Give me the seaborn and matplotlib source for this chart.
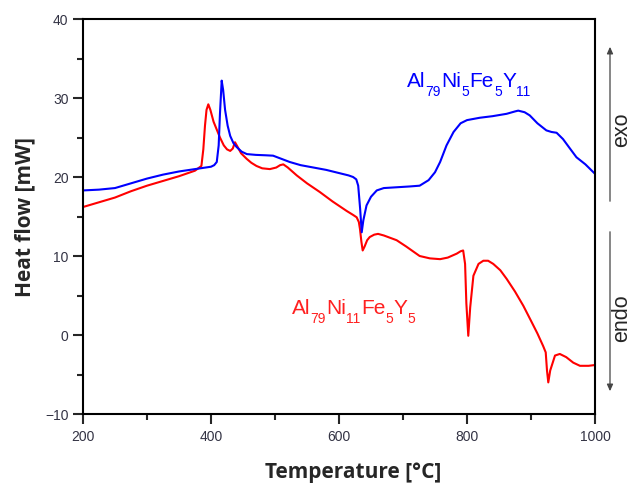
import numpy as np
import pandas as pd
import matplotlib
matplotlib.use("Agg")
import matplotlib.pyplot as plt
import matplotlib.patches as mpatches
import seaborn as sns

# ---- data ----
blue_T = [200, 225, 250, 275, 300, 325, 350, 375, 400, 405, 409, 412, 414, 416.7, 419, 422, 426, 430,
          435, 440, 448, 456, 470, 485, 497, 510, 523, 540, 560, 580, 600, 615, 622, 627, 630, 633,
          635.5, 638, 643, 650, 659, 670, 690, 710, 726, 740, 750, 758, 768, 779, 790, 800, 820, 840,
          862, 875, 880, 890, 898, 910, 924, 932, 940, 950, 960, 971, 985, 1000]
blue_H = [18.3, 18.4, 18.6, 19.2, 19.8, 20.3, 20.7, 21.0, 21.3, 21.5, 21.9, 24.0, 28.0, 32.2, 31.0,
          28.5, 26.5, 25.2, 24.3, 23.8, 23.2, 22.9, 22.8, 22.75, 22.7, 22.3, 21.9, 21.5, 21.2, 20.9,
          20.5, 20.2, 20.0, 19.7, 18.9, 16.0, 13.0, 14.5, 16.4, 17.5, 18.3, 18.6, 18.7, 18.8, 18.9,
          19.6, 20.6, 21.9, 24.0, 25.7, 26.8, 27.2, 27.5, 27.7, 28.0, 28.3, 28.4, 28.2, 27.8, 26.8,
          25.9, 25.7, 25.6, 24.8, 23.7, 22.5, 21.6, 20.4]

red_T = [200, 225, 250, 275, 300, 325, 350, 375, 385, 388, 390.6, 393, 395.8, 399, 404, 409, 414, 420,
         425, 430, 434, 437.5, 441, 447, 455.7, 463, 471, 480, 492, 502, 508, 513, 520, 534, 550, 570,
         590, 612, 622, 627.6, 631, 632.8, 635, 637, 640, 644, 648, 655, 661, 670, 680, 690, 705, 726,
         742, 758, 770, 784, 790, 794, 797, 799, 802, 805, 810, 818, 825.5, 833, 841, 852, 862, 875,
         888, 900, 910, 919, 923, 925, 927, 930, 937.5, 945, 955, 966, 976.5, 990, 1000]
red_H = [16.2, 16.8, 17.4, 18.2, 18.9, 19.5, 20.1, 20.8, 21.4, 23.5, 26.5, 28.5, 29.2, 28.5, 27.0,
         26.0, 25.0, 24.0, 23.5, 23.3, 23.6, 24.4, 23.9, 23.0, 22.3, 21.8, 21.4, 21.1, 21.0, 21.2,
         21.5, 21.6, 21.2, 20.2, 19.2, 18.1, 16.9, 15.7, 15.2, 14.9, 14.3, 13.4, 11.8, 10.7, 11.2,
         12.0, 12.4, 12.7, 12.8, 12.6, 12.3, 12.0, 11.2, 10.0, 9.7, 9.6, 9.8, 10.3, 10.6, 10.7, 9.0,
         4.0, -0.1, 3.5, 7.5, 9.0, 9.4, 9.4, 9.0, 8.2, 7.1, 5.5, 3.7, 1.8, 0.2, -1.4, -2.2, -4.5,
         -6.0, -4.5, -2.6, -2.4, -2.8, -3.5, -3.9, -3.9, -3.8]

# chemical formula labels: (text, is_subscript)
blue_label = [("Al", False), ("79", True), ("Ni", False), ("5", True),
              ("Fe", False), ("5", True), ("Y", False), ("11", True)]
red_label = [("Al", False), ("79", True), ("Ni", False), ("11", True),
             ("Fe", False), ("5", True), ("Y", False), ("5", True)]
x_ticks = [200, 400, 600, 800, 1000]
y_ticks = [-10, 0, 10, 20, 30, 40]

# ---- styling ----
sns.set_style("ticks")
plt.rcParams["font.family"] = ["Liberation Sans", "DejaVu Sans"]

fig = plt.figure(figsize=(6.34, 4.85), dpi=100)
ax = fig.add_axes([83 / 634, 1 - 415 / 485, (595 - 83) / 634, (415 - 20) / 485])

df_b = pd.DataFrame({"T": blue_T, "H": blue_H})
df_r = pd.DataFrame({"T": red_T, "H": red_H})
sns.lineplot(data=df_r, x="T", y="H", ax=ax, color="#ff0000", lw=1.5, sort=False, estimator=None)
sns.lineplot(data=df_b, x="T", y="H", ax=ax, color="#0000ff", lw=1.5, sort=False, estimator=None)

ax.set_xlim(200, 1000)
ax.set_ylim(-10, 40)
ax.set_xticks(x_ticks)
ax.set_yticks(y_ticks)
ax.set_xticks([300, 500, 700, 900], minor=True)
ax.set_yticks([-5, 5, 15, 25, 35], minor=True)
ax.tick_params(which="major", length=7, width=1.5, labelsize=10, labelcolor="#333344", direction="out")
ax.tick_params(which="minor", length=4, width=1.5, direction="out")
for s in ax.spines.values():
    s.set_linewidth(1.5)
    s.set_color("black")

ax.set_xlabel("Temperature [°C]", family="Open Sans", fontweight="bold", fontsize=15)
ax.xaxis.set_label_coords((353 - 83) / 512, -0.12)
ax.set_ylabel("Heat flow [mW]", family="Open Sans", fontweight="bold", fontsize=15, labelpad=7)


def formula(x, y, parts, color, size=15, subsize=10, drop=5.6):
    prev = ax.text(x, y, parts[0][0], color=color, fontsize=size, va="bottom", ha="left")
    prev_sub = parts[0][1]
    for txt, sub in parts[1:]:
        dy = 0.0
        if sub and not prev_sub:
            dy = -drop
        elif prev_sub and not sub:
            dy = drop
        prev = ax.annotate(txt, xy=(1, 0), xycoords=prev, xytext=(0.2, dy),
                           textcoords="offset points", color=color,
                           fontsize=subsize if sub else size, va="bottom", ha="left")
        prev_sub = sub


formula(706, 31.0, blue_label, "#0000ff")
formula(526, 2.3, red_label, "#ff2020")

# exo / endo arrows outside the axes
xa = 610 / 634
fig.add_artist(mpatches.FancyArrowPatch((xa, 1 - 205 / 485), (xa, 1 - 45 / 485),
               transform=fig.transFigure, arrowstyle="-|>,head_length=4,head_width=1.8",
               color="#444444", lw=0.9, mutation_scale=1))
fig.add_artist(mpatches.FancyArrowPatch((xa, 1 - 230 / 485), (xa, 1 - 395 / 485),
               transform=fig.transFigure, arrowstyle="-|>,head_length=4,head_width=1.8",
               color="#444444", lw=0.9, mutation_scale=1))
fig.text(622 / 634, 1 - 130 / 485, "exo", rotation=90, ha="center", va="center", fontsize=15.5)
fig.text(622 / 634, 1 - 318 / 485, "endo", rotation=90, ha="center", va="center", fontsize=15.5)

fig.savefig("out.png", dpi=100)
